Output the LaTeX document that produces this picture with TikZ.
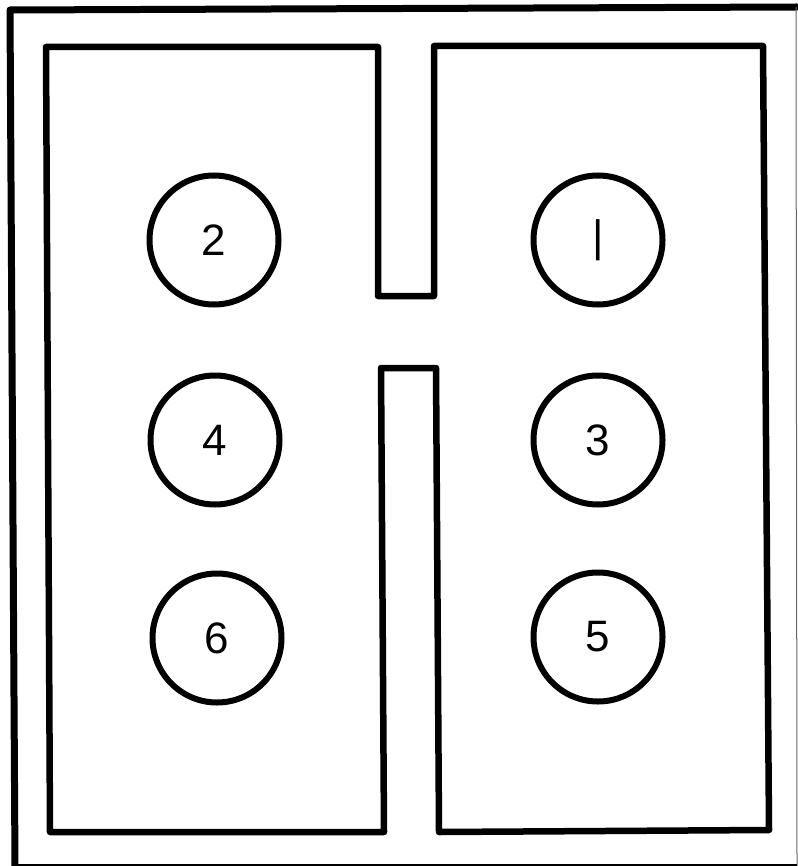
\documentclass[tikz,border=0pt]{standalone}
\usepackage{fontspec}
\setmainfont{Liberation Sans}
\begin{document}
\begin{tikzpicture}[x=1pt,y=-1pt,
  outline/.style={line width=6.5pt,line join=round,line cap=round},
  pin/.style={circle,draw,line width=6pt,minimum size=129pt,inner sep=0pt,font=\fontsize{44}{44}\selectfont}]
\useasboundingbox (0,0) rectangle (797,866);
% outer frame (cut off at right and bottom)
\draw[outline,line width=7pt] (15,868) -- (10,10) -- (797,7);
\draw[line width=1pt,black!60] (796,7) -- (797,866);
\draw[line width=4pt] (15,866) -- (797,866);
% housing outline
\draw[outline] (46,47) -- (378,47) -- (378,296) -- (434,296) -- (434,46) -- (763,46)
  -- (769,830) -- (439,832) -- (436,368) -- (381,368) -- (384,832) -- (50,832) -- cycle;
% pins
\node[pin] (p2) at (214,240) {2};
\node[pin] (p1) at (598,240) {|};
\node[pin] (p4) at (215,440) {4};
\node[pin] (p3) at (598,440) {3};
\node[pin] (p6) at (217,638) {6};
\node[pin] (p5) at (598,637) {5};
\end{tikzpicture}
\end{document}
